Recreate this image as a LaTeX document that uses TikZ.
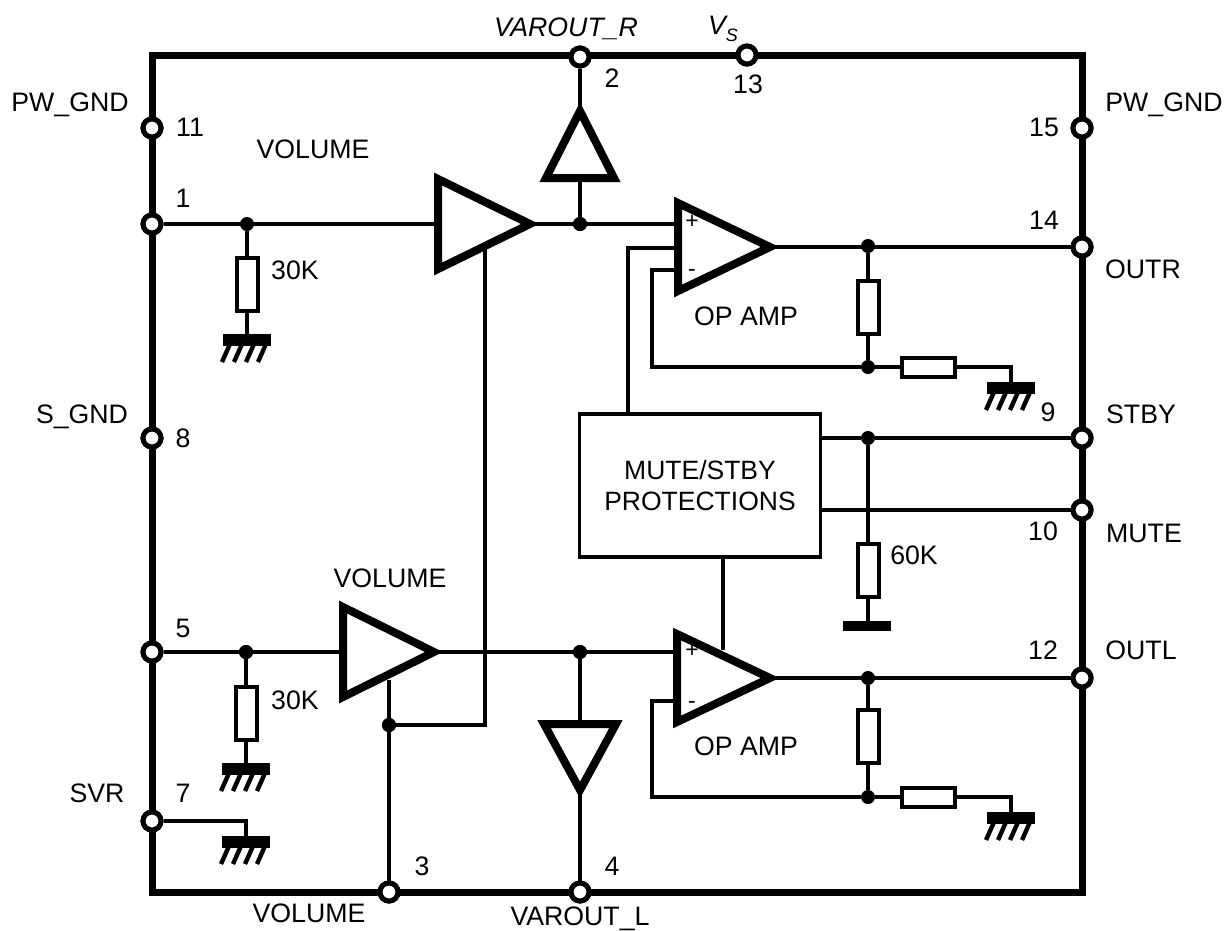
\documentclass[tikz,border=0pt]{standalone}
\usepackage{fontspec}
\setmainfont{Liberation Sans}
\begin{document}
\begin{tikzpicture}[x=1pt,y=-1pt,
  wire/.style={line width=3.6pt,line join=miter},
  frameline/.style={line width=7pt,line join=miter},
  amp/.style={line width=8pt,line join=miter,miter limit=10,fill=white},
  pin/.style={circle,draw,fill=white,line width=5pt,minimum size=18pt,inner sep=0pt},
  jn/.style={circle,fill=black,minimum size=14pt,inner sep=0pt},
  resv/.style={rectangle,draw,fill=white,line width=4pt,minimum width=21pt,minimum height=53pt,inner sep=0pt},
  resh/.style={rectangle,draw,fill=white,line width=4pt,minimum width=53pt,minimum height=19pt,inner sep=0pt},
  lab/.style={inner sep=0pt,font=\fontsize{26.7}{30}\selectfont},
  ilab/.style={lab,font=\fontsize{26.7}{30}\selectfont\itshape},
  sign/.style={inner sep=0pt,font=\fontsize{23}{24}\selectfont},
  pics/gndsym/.style={code={
    \fill (-24,0) rectangle (24,12);
    \foreach \d in {-17,-5,7,19}
      \draw[line width=4.4pt] (\d,10) -- (\d-8,28);
  }}]
\useasboundingbox (0,0) rectangle (1231,930);
\fill[white] (0,0) rectangle (1231,930);

% frame
\draw[frameline] (152,55) rectangle (1082,892);

% named points
\coordinate (a1in) at (438,224); \coordinate (a1tip) at (530,224);
\coordinate (a1t) at (438,179);  \coordinate (a1b) at (438,269);
\coordinate (a2in) at (343,652); \coordinate (a2tip) at (434,652);
\coordinate (a2t) at (343,607);  \coordinate (a2b) at (343,697);
\coordinate (o1t) at (678,203);  \coordinate (o1b) at (678,291); \coordinate (o1tip) at (770,247);
\coordinate (o2t) at (677,634);  \coordinate (o2b) at (677,722); \coordinate (o2tip) at (770,678);
\coordinate (buL) at (546,178);  \coordinate (buR) at (614,178); \coordinate (buA) at (580,111);
\coordinate (bdL) at (544,724);  \coordinate (bdR) at (616,724); \coordinate (bdA) at (580,790);

\coordinate (fb1a) at (652,270); \coordinate (fb1b) at (652,367);
\coordinate (fb2a) at (652,701); \coordinate (fb2b) at (652,797);
\coordinate (ctlA) at (485,250); \coordinate (ctlB) at (485,725);
\coordinate (ctlC) at (389,680);
\coordinate (mu1a) at (628,248); \coordinate (mu1b) at (678,248);
\coordinate (mu2a) at (723,650);

\coordinate (g1) at (247,334); \coordinate (g2) at (246,763); \coordinate (g3) at (246,836);
\coordinate (g4) at (1011,382); \coordinate (g5) at (1011,812);
\coordinate (g6) at (868,621);

% nodes
\node[jn] (d1) at (247,224) {};
\node[jn] (d2) at (580,224) {};
\node[jn] (d3) at (868,246) {};
\node[jn] (d4) at (868,367) {};
\node[jn] (d5) at (868,438) {};
\node[jn] (d6) at (246,652) {};
\node[jn] (d7) at (580,652) {};
\node[jn] (d8) at (868,678) {};
\node[jn] (d9) at (868,797) {};
\node[jn] (d10) at (389,725) {};

\node[pin] (p11) at (152,128) {};
\node[pin] (p1) at (152,224) {};
\node[pin] (p8) at (152,438) {};
\node[pin] (p5) at (152,652) {};
\node[pin] (p7) at (152,821) {};
\node[pin] (p3) at (389,892) {};
\node[pin] (p4) at (580,892) {};
\node[pin] (p2) at (580,57) {};
\node[pin] (p13) at (747,55) {};
\node[pin] (p15) at (1082,128) {};
\node[pin] (p14) at (1082,247) {};
\node[pin] (p9) at (1082,438) {};
\node[pin] (p10) at (1082,510) {};
\node[pin] (p12) at (1082,678) {};

% connectors
\draw[wire] (p1) -- (a1in);
\draw[wire] (a1tip) -- (o1t |- a1tip);
\draw[wire] (d2) -- (580,178);
\draw[wire] (buA) -- (p2);
\draw[wire] (o1tip) -- (p14);
\draw[wire] (o2tip) -- (p12);
\draw[wire] (d1) -- (g1);
\draw[wire] (p5) -- (a2in);
\draw[wire] (d6) -- (g2);
\draw[wire] (p7) -| (g3);
\draw[wire] (a2tip) -- (o2t |- a2tip);
\draw[wire] (d7) -- (580,724);
\draw[wire] (bdA) -- (p4);
\draw[wire] (ctlC) -- (p3);
\draw[wire] (d10) -- (ctlB) -- (ctlA);
\draw[wire] (o1b |- fb1a) -- (fb1a) -- (fb1b) -- (d4);
\draw[wire] (o2b |- fb2a) -- (fb2a) -- (fb2b) -- (d9);
\draw[wire] (d3) -- (d4);
\draw[wire] (d8) -- (d9);
\draw[wire] (d4) -- (g4 |- d4) -- (g4);
\draw[wire] (d9) -- (g5 |- d9) -- (g5);
\draw[wire] (d5) -- (g6);
\draw[wire] (p9) -- (d5);

% resistors
\node[resv] (r1) at (247,284) {};
\node[resv] (r2) at (246,713) {};
\node[resv] (r3) at (868,307) {};
\node[resv] (r4) at (868,736) {};
\node[resv] (r5) at (868,570) {};
\node[resh] (r6) at (928,367) {};
\node[resh] (r7) at (928,797) {};

% grounds
\pic at (g1) {gndsym};
\pic at (g2) {gndsym};
\pic at (g3) {gndsym};
\pic at (g4) {gndsym};
\pic at (g5) {gndsym};
\fill (843,621) rectangle (891,631);

% control box
\node[rectangle,draw,fill=white,line width=3.6pt,minimum width=241pt,minimum height=143pt,inner sep=0pt,align=center,
      font=\fontsize{26.5}{31}\selectfont] (box) at (700,485.5) {MUTE/STBY\\PROTECTIONS};
\draw[wire] (box.north -| mu1a) -- (mu1a) -- (mu1b);
\draw[wire] (box.south -| mu2a) -- (mu2a);
\draw[wire] (box.east |- d5) -- (d5);
\draw[wire] (box.east |- p10) -- (p10);

% amplifiers
\draw[amp] (a1t) -- (a1tip) -- (a1b) -- cycle;
\draw[amp] (a2t) -- (a2tip) -- (a2b) -- cycle;
\draw[amp] (o1t) -- (o1tip) -- (o1b) -- cycle;
\draw[amp] (o2t) -- (o2tip) -- (o2b) -- cycle;
\draw[amp] (buL) -- (buA) -- (buR) -- cycle;
\draw[amp] (bdL) -- (bdA) -- (bdR) -- cycle;
\draw[wire] (ctlA) -- (ctlB);

% pins and junctions on top
\foreach \p in {d2,d6,d7,d10} \node[jn] at (\p) {};
\foreach \p in {p11,p1,p8,p5,p7,p3,p4,p2,p13,p15,p14,p9,p10,p12} \node[pin] at (\p) {};

% texts
\node[ilab] (t1) at (566,29) {VAROUT\_R};
\node[ilab] (t2) at (723,29) {V\raisebox{-0.25em}{\fontsize{18}{18}\selectfont S}};
\node[lab] (t3) at (612,78) {2};
\node[lab] (t4) at (748,84) {13};
\node[lab] (t5) at (70,105) {PW\_GND};
\node[lab] (t6) at (190,127) {11};
\node[lab] (t7) at (313,149) {VOLUME};
\node[lab] (t8) at (183,198) {1};
\node[lab] (t9) at (295,270) {30K};
\node[lab] (t10) at (82,417) {S\_GND};
\node[lab] (t11) at (183,438) {8};
\node[lab] (t12) at (183,628) {5};
\node[lab] (t13) at (390,578) {VOLUME};
\node[lab] (t14) at (295,700) {30K};
\node[lab] (t15) at (97,793) {SVR};
\node[lab] (t16) at (183,793) {7};
\node[lab] (t17) at (422,866) {3};
\node[lab] (t18) at (612,866) {4};
\node[lab] (t19) at (309,913) {VOLUME};
\node[lab] (t20) at (580,919) {VAROUT\_L};
\node[lab] (t21) at (1164,105) {PW\_GND};
\node[lab] (t22) at (1044,127) {15};
\node[lab] (t23) at (1044,220) {14};
\node[lab] (t24) at (1143,269) {OUTR};
\node[lab] (t25) at (1048,412) {9};
\node[lab] (t26) at (1141,414) {STBY};
\node[lab] (t27) at (1043,531) {10};
\node[lab] (t28) at (1144,533) {MUTE};
\node[lab] (t29) at (1043,650) {12};
\node[lab] (t30) at (1141,650) {OUTL};
\node[lab] (t31) at (746,316) {OP AMP};
\node[lab] (t32) at (746,746) {OP AMP};
\node[lab] (t33) at (914,555) {60K};
\node[sign] (s1) at (692,222) {+};
\node[sign] (s2) at (692,273) {-};
\node[sign] (s3) at (692,651) {+};
\node[sign] (s4) at (692,705) {-};
\end{tikzpicture}
\end{document}
